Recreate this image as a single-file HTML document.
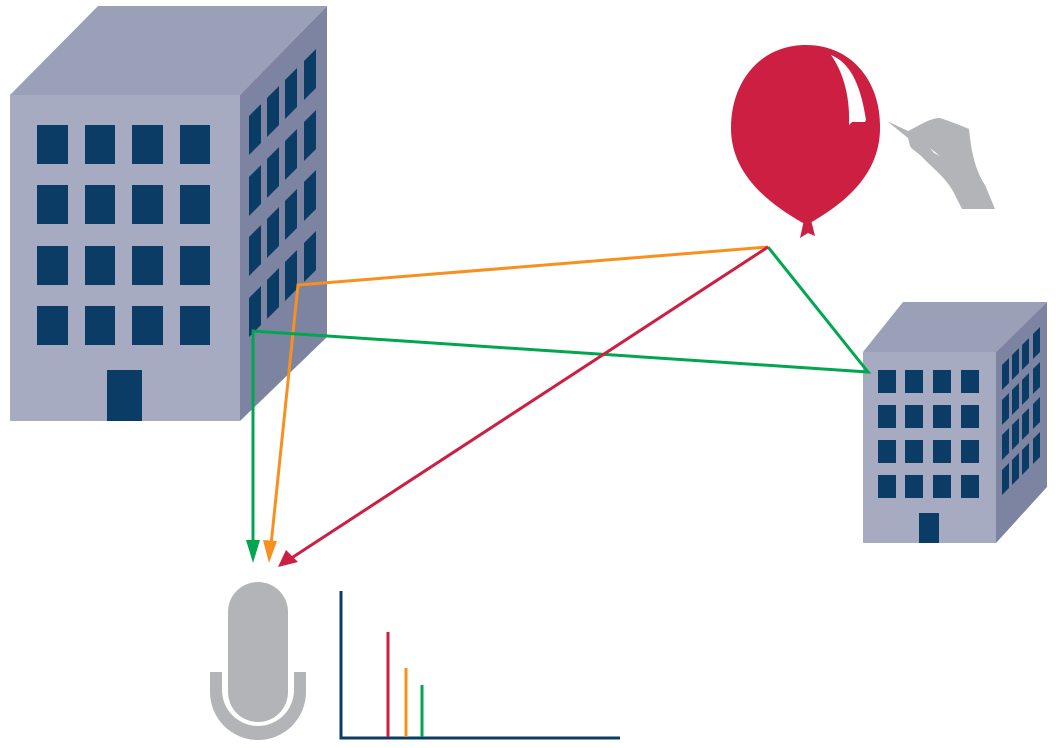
<!DOCTYPE html>
<html><head><style>body{margin:0;background:#fff}svg{display:block}</style></head>
<body>
<svg width="1057" height="748" viewBox="0 0 1057 748" xmlns="http://www.w3.org/2000/svg">
<!-- big building -->
<polygon points="10,95 98,6 327,6 240,95" fill="#9aa0b8"/>
<polygon points="240,95 327,6 327,337 240,421" fill="#7d84a2"/>
<rect x="10" y="95" width="230" height="326" fill="#a6abc2"/>
<g fill="#0a3c66">
<rect x="37" y="125" width="31" height="39"/><rect x="85" y="125" width="30" height="39"/><rect x="132" y="125" width="31" height="39"/><rect x="180" y="125" width="30" height="39"/>
<rect x="37" y="185" width="31" height="39"/><rect x="85" y="185" width="30" height="39"/><rect x="132" y="185" width="31" height="39"/><rect x="180" y="185" width="30" height="39"/>
<rect x="37" y="246" width="31" height="39"/><rect x="85" y="246" width="30" height="39"/><rect x="132" y="246" width="31" height="39"/><rect x="180" y="246" width="30" height="39"/>
<rect x="37" y="306" width="31" height="39"/><rect x="85" y="306" width="30" height="39"/><rect x="132" y="306" width="31" height="39"/><rect x="180" y="306" width="30" height="39"/>
<rect x="107" y="370" width="35" height="51"/>
<polygon points="249,116 261,104 261,143 249,155"/><polygon points="267,98 279,86 279,125 267,137"/><polygon points="285,80 297,68 297,107 285,119"/><polygon points="304,61 316,49 316,88 304,100"/>
<polygon points="249,177 261,165 261,204 249,216"/><polygon points="267,159 279,147 279,186 267,198"/><polygon points="285,141 297,129 297,168 285,180"/><polygon points="304,122 316,110 316,149 304,161"/>
<polygon points="249,237 261,225 261,264 249,276"/><polygon points="267,219 279,207 279,246 267,258"/><polygon points="285,201 297,189 297,228 285,240"/><polygon points="304,182 316,170 316,209 304,221"/>
<polygon points="249,298 261,286 261,325 249,337"/><polygon points="267,280 279,268 279,307 267,319"/><polygon points="285,262 297,250 297,289 285,301"/><polygon points="304,243 316,231 316,270 304,282"/>
</g>
<!-- small building -->
<polygon points="863,352 903,302 1047,302 996,352" fill="#9aa0b8"/>
<polygon points="996,352 1047,302 1047,487 996,543" fill="#7d84a2"/>
<rect x="863" y="352" width="133" height="191" fill="#a6abc2"/>
<g fill="#0a3c66">
<rect x="878" y="370" width="18" height="23"/><rect x="905" y="370" width="18" height="23"/><rect x="933" y="370" width="18" height="23"/><rect x="961" y="370" width="18" height="23"/>
<rect x="878" y="405" width="18" height="23"/><rect x="905" y="405" width="18" height="23"/><rect x="933" y="405" width="18" height="23"/><rect x="961" y="405" width="18" height="23"/>
<rect x="878" y="440" width="18" height="23"/><rect x="905" y="440" width="18" height="23"/><rect x="933" y="440" width="18" height="23"/><rect x="961" y="440" width="18" height="23"/>
<rect x="878" y="475" width="18" height="23"/><rect x="905" y="475" width="18" height="23"/><rect x="933" y="475" width="18" height="23"/><rect x="961" y="475" width="18" height="23"/>
<rect x="919" y="513" width="20" height="30"/>
<polygon points="1002,365 1009,358 1009,383 1002,390"/><polygon points="1012,355 1019,348 1019,373 1012,380"/><polygon points="1022,345 1029,338 1029,363 1022,370"/><polygon points="1033,334 1040,327 1040,352 1033,359"/>
<polygon points="1002,400 1009,393 1009,418 1002,425"/><polygon points="1012,390 1019,383 1019,408 1012,415"/><polygon points="1022,380 1029,373 1029,398 1022,405"/><polygon points="1033,369 1040,362 1040,387 1033,394"/>
<polygon points="1002,435 1009,428 1009,453 1002,460"/><polygon points="1012,425 1019,418 1019,443 1012,450"/><polygon points="1022,415 1029,408 1029,433 1022,440"/><polygon points="1033,404 1040,397 1040,422 1033,429"/>
<polygon points="1002,470 1009,463 1009,488 1002,495"/><polygon points="1012,460 1019,453 1019,478 1012,485"/><polygon points="1022,450 1029,443 1029,468 1022,475"/><polygon points="1033,439 1040,432 1040,457 1033,464"/>
</g>
<!-- balloon -->
<path d="M806,45 C852,45 881,82 880,128 C880,165 858,196 810,223 L803,223 C755,196 731,165 731,128 C731,82 760,45 806,45 Z" fill="#cc1f42"/>
<path d="M804,220 L811,220 L815,236 L808,233 L800,238 Z" fill="#cc1f42"/>
<path d="M831,55 C848,62 860,80 866,120 L865,122 L852,122 L849,125 C850,100 845,75 831,55 Z" fill="#fff"/>
<!-- hand -->
<path d="M887,121 L908,131 L914,128 C925,122 932,118 940,118 C952,122 962,126 969,129 C971,150 975,170 985,185 L995,209 L962,209 L955,195 C948,180 935,170 925,160 C918,152 912,150 910,146 L908,138 Z" fill="#b3b4b8"/>
<path d="M930,148 L940,156 L934,153 Z" fill="#fff"/>
<!-- connectors -->
<g fill="none" stroke-width="3">
<polyline points="768,247 298,285 271,545" stroke="#f7901e"/>
<polyline points="768,247 868,372 253,331 253,545" stroke="#00a650"/>
<line x1="768" y1="247" x2="290" y2="559" stroke="#cc1f42"/>
</g>
<polygon points="246,540 260,540 253,563" fill="#00a650"/>
<polygon points="263,540 277,541 269,563" fill="#f7901e"/>
<polygon points="286,550 298,562 278,567" fill="#cc1f42"/>
<!-- mic -->
<rect x="228" y="582" width="60" height="140" rx="30" fill="#b3b4b8"/>
<path d="M210,672 L222,672 L222,690 A36,36 0 0 0 294,690 L294,672 L306,672 L306,692 A48,48 0 0 1 210,692 Z" fill="#b3b4b8"/>
<!-- chart -->
<g stroke-width="3" fill="none">
<polyline points="341,591 341,738 620,738" stroke="#0a3c66"/>
<line x1="388" y1="632" x2="388" y2="737" stroke="#cc1f42"/>
<line x1="406" y1="668" x2="406" y2="737" stroke="#f7901e"/>
<line x1="422" y1="685" x2="422" y2="737" stroke="#00a650"/>
</g>
</svg>
</body></html>
